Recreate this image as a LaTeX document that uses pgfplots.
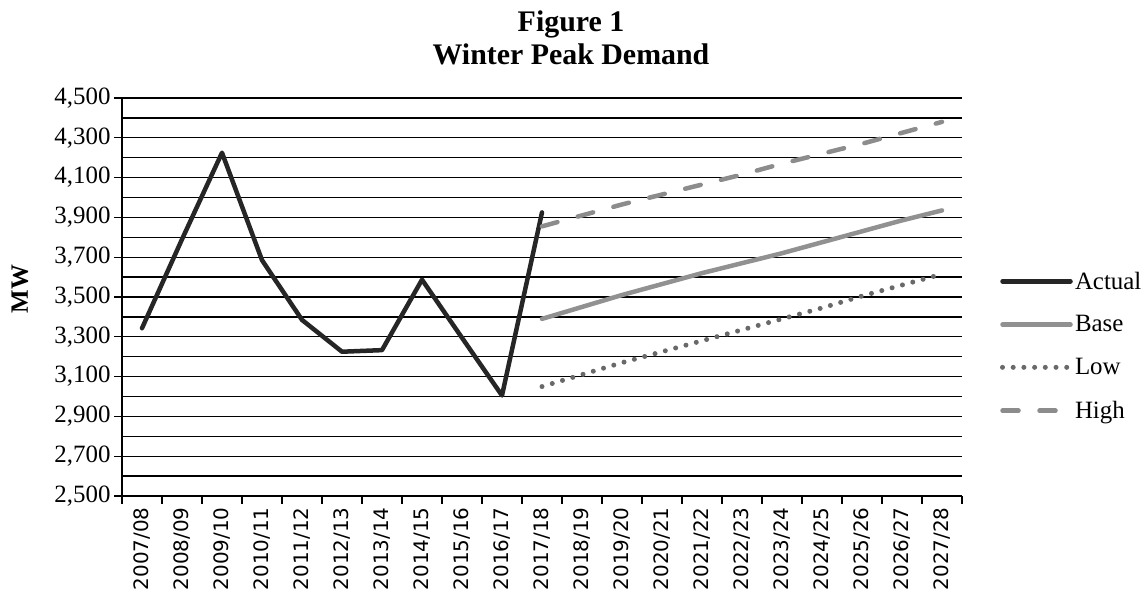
\documentclass[border=0pt]{standalone}
\usepackage{pgfplots}
\pgfplotsset{compat=1.18}
\usepackage{fontspec}
\setmainfont{Liberation Serif}
\newfontfamily\dejavu{DejaVu Sans}
\definecolor{cActual}{RGB}{38,38,38}
\definecolor{cBase}{RGB}{145,145,145}
\definecolor{cLow}{RGB}{105,105,105}
\definecolor{cHigh}{RGB}{140,140,140}
\begin{document}
\begin{tikzpicture}
\useasboundingbox (0,0) rectangle (1146bp,601bp);
\node[anchor=base, font=\bfseries\fontsize{30}{34}\selectfont] at (571bp,569bp) {Figure 1};
\node[anchor=base, font=\bfseries\fontsize{30}{34}\selectfont] at (571bp,536bp) {Winter Peak Demand};
\begin{axis}[
  at={(122bp,105bp)}, anchor=south west,
  scale only axis, width=840bp, height=398bp,
  xmin=-0.5, xmax=20.5, ymin=2500, ymax=4500,
  axis x line*=bottom, axis y line*=left,
  axis line style={-, black, line width=1.3bp},
  xtick={-0.5,0.5,...,20.5},
  x tick label as interval,
  xticklabels={2007/08,2008/09,2009/10,2010/11,2011/12,2012/13,2013/14,2014/15,2015/16,2016/17,2017/18,2018/19,2019/20,2020/21,2021/22,2022/23,2023/24,2024/25,2025/26,2026/27,2027/28},
  ytick={2500,2700,...,4500},
  minor y tick num=1,
  ymajorgrids, yminorgrids,
  major grid style={black, line width=1.3bp},
  minor grid style={black, line width=1.3bp},
  tick align=outside, major tick length=8bp, minor tick length=0pt,
  tick style={black, line width=1.3bp},
  /pgf/number format/1000 sep={,},
  /pgf/number format/assume math mode=true,
  yticklabel style={font=\fontsize{25}{30}\selectfont},
  xticklabel style={font=\dejavu\fontsize{20}{22}\selectfont, rotate=90, anchor=east},
  ylabel={MW},
  every axis y label/.style={at={(axis description cs:-0.1214,0.52)}, rotate=90, anchor=center,
    font=\bfseries\fontsize{25}{30}\selectfont},
  legend style={at={(axis description cs:1.045,0.377)}, anchor=west, draw=none, fill=none,
    font=\fontsize{25}{30}\selectfont, row sep=21bp, inner sep=0pt},
  legend cell align=left,
  legend image code/.code={\draw[#1] (0bp,0bp) -- (68bp,0bp);},
  clip=false,
]
\addplot[color=cActual, line width=4.5bp, line join=round, line cap=round] coordinates {
 (0,3343) (1,3790) (2,4225) (3,3685) (4,3385) (5,3225) (6,3233) (7,3587) (8,3295) (9,3005) (10,3925)};
\addlegendentry{Actual}
\addplot[color=cBase, line width=4.5bp, line join=round, line cap=round] coordinates {
 (10,3390) (11,3450) (12,3510) (13,3565) (14,3620) (15,3670) (16,3720) (17,3775) (18,3830) (19,3885) (20,3935)};
\addlegendentry{Base}
\addplot[color=cLow, line width=5bp, line cap=round, dash pattern=on 0bp off 10.7bp] coordinates {
 (10,3050) (11,3110) (12,3170) (13,3225) (14,3280) (15,3335) (16,3390) (17,3445) (18,3505) (19,3560) (20,3615)};
\addlegendentry{Low}
\addplot[color=cHigh, line width=4.5bp, line cap=round, dash pattern=on 16bp off 21bp] coordinates {
 (10,3855) (11,3910) (12,3965) (13,4015) (14,4065) (15,4115) (16,4170) (17,4220) (18,4270) (19,4325) (20,4380)};
\addlegendentry{High}
\end{axis}
\end{tikzpicture}
\end{document}
